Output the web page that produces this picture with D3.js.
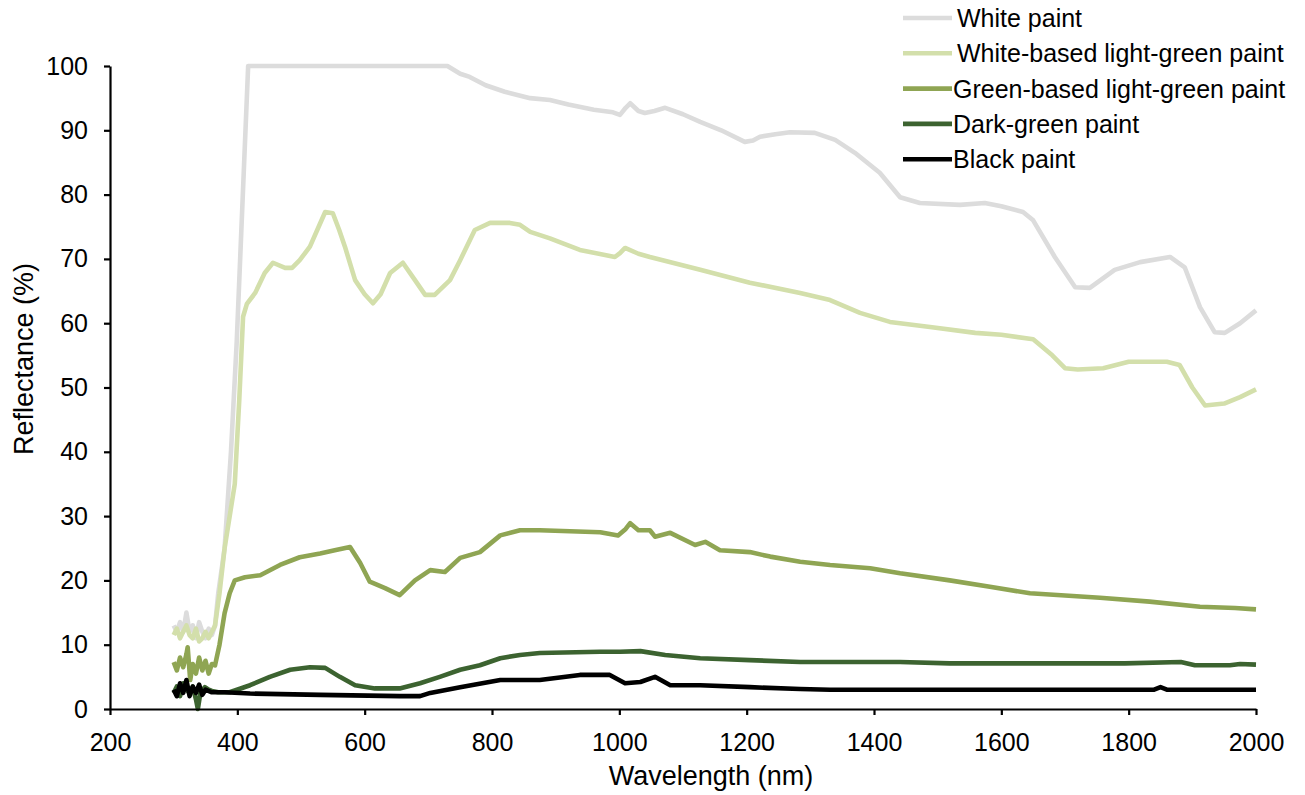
<!DOCTYPE html>
<html>
<head>
<meta charset="utf-8">
<script src="https://cdn.jsdelivr.net/npm/d3@7"></script>
<style>
  html, body { margin: 0; padding: 0; background: #fff; }
  svg { display: block; font-family: "Liberation Sans", Arial, sans-serif; }
</style>
</head>
<body>
<svg id="chart" width="1305" height="795"></svg>
<script>
// ---- Data ----
const seriesNames = ["White paint", "White-based light-green paint", "Green-based light-green paint", "Dark-green paint", "Black paint"];
const xTicks = [200, 400, 600, 800, 1000, 1200, 1400, 1600, 1800, 2000];
const yTicks = [0, 10, 20, 30, 40, 50, 60, 70, 80, 90, 100];

const whiteWl = [300,305,310,315,320,325,330,335,340,345,350,355,360,365,370,380,390,399,417,730,750,765,790,820,860,891,920,960,990,1001,1010,1017,1030,1040,1055,1072,1100,1127,1160,1197,1210,1221,1245,1268,1307,1339,1370,1409,1441,1472,1535,1574,1600,1634,1650,1684,1716,1739,1778,1818,1865,1888,1912,1935,1951,1975,2000];
const whiteVal = [13,12,13.5,12,15,12,13,11,13.5,12,11,12.5,11.5,13,18,25,40,57,100,100,98.8,98.3,97,96,95,94.7,94,93.2,92.8,92.4,93.5,94.2,93,92.7,93,93.5,92.5,91.3,90,88.2,88.4,89,89.4,89.7,89.6,88.5,86.5,83.4,79.6,78.7,78.4,78.7,78.2,77.3,76,70.3,65.6,65.5,68.3,69.5,70.3,68.7,62.5,58.6,58.5,60,62];

const lgWl = [300,305,310,315,320,325,330,335,340,345,350,355,360,365,372,380,388,396,403,409,415,428,443,456,475,486,498,514,530,538,550,560,569,585,600,613,625,640,660,679,695,710,734,750,773,797,828,844,860,891,938,993,1001,1009,1030,1048,1127,1205,1284,1331,1378,1425,1488,1559,1600,1650,1680,1700,1720,1760,1800,1860,1880,1900,1920,1950,1975,2000];
const lgVal = [11.5,12.5,11,12,13,11.5,11,12.5,10.5,11,12,11,12,13,18,25,30,35,48,61,63,64.7,67.8,69.4,68.6,68.6,69.8,71.9,75.5,77.3,77.1,74.5,71.9,66.7,64.5,63.1,64.5,67.8,69.4,66.7,64.4,64.4,66.7,69.8,74.5,75.6,75.6,75.3,74.2,73.2,71.4,70.3,70.9,71.7,70.8,70.3,68.3,66.3,64.7,63.6,61.6,60.2,59.4,58.5,58.2,57.5,55,53,52.8,53,54,54,53.5,50,47.2,47.5,48.5,49.7];

const gbWl = [300,305,310,315,320,322,326,330,335,340,345,350,355,360,365,372,380,388,396,412,436,467,498,530,553,577,593,608,632,655,679,703,726,750,781,813,844,875,970,998,1010,1017,1030,1048,1056,1080,1119,1135,1158,1205,1237,1284,1331,1394,1441,1519,1582,1645,1755,1833,1912,1967,2000];
const gbVal = [7.3,6,8,6.5,8.5,9.6,4.5,7,5.5,8,6,7.5,5.5,7,6.8,10,14.9,18,20,20.5,20.8,22.4,23.6,24.2,24.7,25.2,22.7,19.8,18.8,17.7,20,21.6,21.3,23.5,24.4,27,27.8,27.8,27.5,27,28,28.9,27.8,27.8,26.8,27.4,25.5,26,24.7,24.4,23.7,22.9,22.4,21.9,21.1,20,19,18,17.3,16.7,15.9,15.7,15.5];

const dgWl = [300,305,310,315,320,325,330,335,338,342,349,355,360,370,388,420,451,483,514,538,561,585,616,655,687,718,750,781,813,844,875,970,1001,1033,1072,1127,1205,1284,1363,1441,1519,1600,1794,1882,1904,1959,1975,2000];
const dgVal = [2.5,3.5,2,4,3,2.5,3.5,1.5,0,2.5,3.4,3,2.8,2.6,2.6,3.7,5,6.1,6.5,6.4,5,3.7,3.2,3.2,4,5,6.1,6.8,7.9,8.4,8.7,8.9,8.9,9,8.4,7.9,7.6,7.3,7.3,7.3,7.1,7.1,7.1,7.3,6.8,6.8,7,6.9];

const blackWl = [300,305,310,315,320,325,330,335,340,345,350,360,380,420,530,655,687,703,750,813,875,938,985,1009,1033,1056,1080,1127,1205,1284,1331,1840,1850,1860,2000];
const blackVal = [3,2,4,2.5,4.5,2,3.5,2.5,3.8,2.2,3,2.6,2.6,2.4,2.2,2,2,2.5,3.4,4.5,4.5,5.3,5.3,4,4.2,5,3.7,3.7,3.4,3.1,3,3,3.4,3,3];

const colors = ["#dcdcdc", "#d3dfab", "#8fa553", "#3c6330", "#000000"];

// ---- Chart ----
const svg = d3.select("#chart");
const mLeft = 110, mRight = 1256, mTop = 66, mBottom = 709;

const x = d3.scaleLinear().domain([200, 2000]).range([mLeft, mRight]);
const y = d3.scaleLinear().domain([0, 100]).range([mBottom, mTop]);

const series = [
  { wl: whiteWl, val: whiteVal },
  { wl: lgWl, val: lgVal },
  { wl: gbWl, val: gbVal },
  { wl: dgWl, val: dgVal },
  { wl: blackWl, val: blackVal }
].map((s, i) => ({ name: seriesNames[i], color: colors[i], pts: s.wl.map((w, j) => [w, s.val[j]]) }));

const line = d3.line().x(d => x(d[0])).y(d => y(d[1]));

svg.append("g").selectAll("path").data(series).join("path")
  .attr("d", d => line(d.pts))
  .attr("fill", "none")
  .attr("stroke", d => d.color)
  .attr("stroke-width", 4.6)
  .attr("stroke-linejoin", "round")
  .attr("stroke-linecap", "butt");

// Axes
const xAxis = svg.append("g").attr("transform", `translate(0,${mBottom})`)
  .call(d3.axisBottom(x).tickValues(xTicks).tickSize(6).tickSizeOuter(0).tickPadding(18).tickFormat(d3.format("d")));
const yAxis = svg.append("g").attr("transform", `translate(${mLeft},0)`)
  .call(d3.axisLeft(y).tickValues(yTicks).tickSize(6).tickSizeOuter(0).tickPadding(16).tickFormat(d3.format("d")));

[xAxis, yAxis].forEach(g => {
  g.select(".domain").attr("stroke", "#000").attr("stroke-width", 2.2);
  g.selectAll(".tick line").attr("stroke", "#000").attr("stroke-width", 2.2);
  g.selectAll(".tick text").attr("fill", "#000").style("font-size", "25px")
    .style("font-family", "'Liberation Sans', Arial, sans-serif");
});

// Axis titles
svg.append("text").attr("x", 711).attr("y", 785)
  .attr("text-anchor", "middle").style("font-size", "27px").attr("fill", "#000")
  .text("Wavelength (nm)");
svg.append("text").attr("transform", "translate(33,359) rotate(-90)")
  .attr("text-anchor", "middle").style("font-size", "27px").attr("fill", "#000")
  .text("Reflectance (%)");

// Legend
const legend = svg.append("g");
series.forEach((s, i) => {
  const ly = 18 + i * 35.3;
  legend.append("line").attr("x1", 903).attr("x2", 952).attr("y1", ly).attr("y2", ly)
    .attr("stroke", s.color).attr("stroke-width", 4.6);
  legend.append("text").attr("x", i < 2 ? 957 : 953).attr("y", ly + 9)
    .style("font-size", "25px").attr("fill", "#000").text(s.name);
});
</script>
</body>
</html>
